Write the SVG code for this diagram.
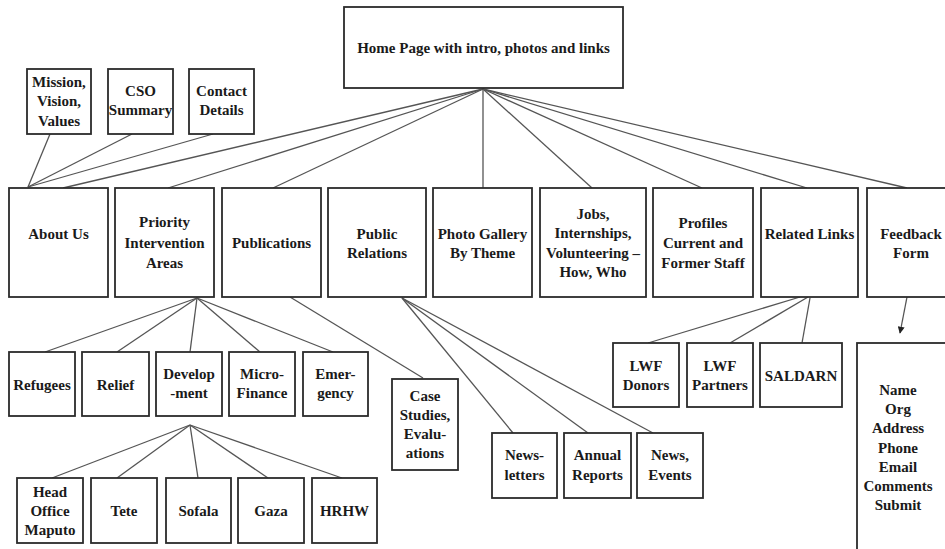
<svg xmlns="http://www.w3.org/2000/svg" width="945" height="549" viewBox="0 0 945 549">
<style>
.box{fill:#fff;stroke:#2b2b2b;stroke-width:1.8}
.t{font-family:"Liberation Serif","Times New Roman",serif;font-weight:bold;font-size:15px;text-anchor:middle;fill:#1a1a1a}
.c{stroke:#555;stroke-width:1.3;fill:none}
</style>
<defs>
<marker id="arr" viewBox="0 0 10 10" refX="9" refY="5" markerWidth="7" markerHeight="7" markerUnits="userSpaceOnUse" orient="auto">
<path d="M0,0 L10,5 L0,10 z" fill="#222"/>
</marker>
</defs>
<rect width="945" height="549" fill="#fff"/>
<g id="connectors">
<line class="c" x1="483" y1="89" x2="63" y2="188"/>
<line class="c" x1="483" y1="89" x2="168" y2="188"/>
<line class="c" x1="483" y1="89" x2="273" y2="188"/>
<line class="c" x1="483" y1="89" x2="483" y2="188"/>
<line class="c" x1="483" y1="89" x2="592" y2="188"/>
<line class="c" x1="483" y1="89" x2="702" y2="188"/>
<line class="c" x1="483" y1="89" x2="807" y2="188"/>
<line class="c" x1="483" y1="89" x2="907" y2="188"/>
<line class="c" x1="50" y1="134" x2="28" y2="187"/>
<line class="c" x1="132" y1="134" x2="28" y2="187"/>
<line class="c" x1="213" y1="134" x2="28" y2="187"/>
<line class="c" x1="197" y1="298" x2="45" y2="352"/>
<line class="c" x1="197" y1="298" x2="117" y2="352"/>
<line class="c" x1="197" y1="298" x2="190" y2="352"/>
<line class="c" x1="197" y1="298" x2="260" y2="352"/>
<line class="c" x1="197" y1="298" x2="333" y2="352"/>
<line class="c" x1="290" y1="297" x2="423" y2="378"/>
<line class="c" x1="402" y1="298" x2="513" y2="433"/>
<line class="c" x1="402" y1="298" x2="588" y2="433"/>
<line class="c" x1="402" y1="298" x2="653" y2="433"/>
<line class="c" x1="190" y1="425" x2="52" y2="478"/>
<line class="c" x1="190" y1="425" x2="117" y2="478"/>
<line class="c" x1="190" y1="425" x2="198" y2="478"/>
<line class="c" x1="190" y1="425" x2="268" y2="478"/>
<line class="c" x1="190" y1="425" x2="342" y2="478"/>
<line class="c" x1="800" y1="297" x2="648" y2="343"/>
<line class="c" x1="808" y1="297" x2="730" y2="343"/>
<line class="c" x1="810" y1="298" x2="802" y2="343"/>
<line class="c" x1="907" y1="297" x2="900" y2="333" marker-end="url(#arr)"/>
</g>
<g id="home"><rect class="box" x="344" y="7" width="279" height="81"/><text class="t" x="483.5" y="53">Home Page with intro, photos and links</text></g>
<g id="mission"><rect class="box" x="27" y="69" width="64" height="65"/><text class="t" x="59" y="87">Mission,</text><text class="t" x="59" y="106">Vision,</text><text class="t" x="59" y="126">Values</text></g>
<g id="cso"><rect class="box" x="108" y="69" width="65" height="65"/><text class="t" x="140.5" y="96">CSO</text><text class="t" x="140.5" y="115">Summary</text></g>
<g id="contact"><rect class="box" x="189" y="69" width="65" height="65"/><text class="t" x="221.5" y="96">Contact</text><text class="t" x="221.5" y="115">Details</text></g>
<g id="about"><rect class="box" x="9" y="188" width="99" height="109"/><text class="t" x="58.5" y="239">About Us</text></g>
<g id="priority"><rect class="box" x="115" y="188" width="99" height="109"/><text class="t" x="164.5" y="227">Priority</text><text class="t" x="164.5" y="248">Intervention</text><text class="t" x="164.5" y="268">Areas</text></g>
<g id="publications"><rect class="box" x="222" y="188" width="99" height="109"/><text class="t" x="271.5" y="248">Publications</text></g>
<g id="public-relations"><rect class="box" x="328" y="188" width="98" height="109"/><text class="t" x="377" y="239">Public</text><text class="t" x="377" y="258">Relations</text></g>
<g id="photo-gallery"><rect class="box" x="433" y="188" width="99" height="109"/><text class="t" x="482.5" y="239">Photo Gallery</text><text class="t" x="482.5" y="258">By Theme</text></g>
<g id="jobs"><rect class="box" x="540" y="188" width="106" height="109"/><text class="t" x="593" y="219">Jobs,</text><text class="t" x="593" y="238">Internships,</text><text class="t" x="593" y="258">Volunteering –</text><text class="t" x="593" y="277">How, Who</text></g>
<g id="profiles"><rect class="box" x="653" y="188" width="100" height="109"/><text class="t" x="703" y="228">Profiles</text><text class="t" x="703" y="248">Current and</text><text class="t" x="703" y="268">Former Staff</text></g>
<g id="related"><rect class="box" x="761" y="188" width="97" height="109"/><text class="t" x="809.5" y="239">Related Links</text></g>
<g id="feedback"><rect class="box" x="867" y="188" width="90" height="109"/><text class="t" x="911" y="239">Feedback</text><text class="t" x="911" y="258">Form</text></g>
<g id="refugees"><rect class="box" x="9" y="352" width="66" height="64"/><text class="t" x="42" y="390">Refugees</text></g>
<g id="relief"><rect class="box" x="82" y="352" width="67" height="64"/><text class="t" x="115.5" y="390">Relief</text></g>
<g id="development"><rect class="box" x="156" y="352" width="66" height="64"/><text class="t" x="189" y="379">Develop</text><text class="t" x="189" y="398">-ment</text></g>
<g id="microfinance"><rect class="box" x="229" y="352" width="66" height="64"/><text class="t" x="262" y="379">Micro-</text><text class="t" x="262" y="398">Finance</text></g>
<g id="emergency"><rect class="box" x="303" y="352" width="65" height="64"/><text class="t" x="335.5" y="379">Emer-</text><text class="t" x="335.5" y="398">gency</text></g>
<g id="case-studies"><rect class="box" x="392" y="379" width="66" height="91"/><text class="t" x="425" y="401">Case</text><text class="t" x="425" y="420">Studies,</text><text class="t" x="425" y="439">Evalu-</text><text class="t" x="425" y="458">ations</text></g>
<g id="head-office"><rect class="box" x="17" y="478" width="66" height="65"/><text class="t" x="50" y="497">Head</text><text class="t" x="50" y="516">Office</text><text class="t" x="50" y="535">Maputo</text></g>
<g id="tete"><rect class="box" x="91" y="478" width="66" height="65"/><text class="t" x="124" y="516">Tete</text></g>
<g id="sofala"><rect class="box" x="166" y="478" width="65" height="65"/><text class="t" x="198.5" y="516">Sofala</text></g>
<g id="gaza"><rect class="box" x="238" y="478" width="66" height="65"/><text class="t" x="271" y="516">Gaza</text></g>
<g id="hrhw"><rect class="box" x="312" y="478" width="65" height="65"/><text class="t" x="344.5" y="516">HRHW</text></g>
<g id="lwf-donors"><rect class="box" x="613" y="343" width="66" height="64"/><text class="t" x="646" y="371">LWF</text><text class="t" x="646" y="390">Donors</text></g>
<g id="lwf-partners"><rect class="box" x="687" y="343" width="66" height="64"/><text class="t" x="720" y="371">LWF</text><text class="t" x="720" y="390">Partners</text></g>
<g id="saldarn"><rect class="box" x="760" y="343" width="82" height="64"/><text class="t" x="801" y="381">SALDARN</text></g>
<g id="newsletters"><rect class="box" x="492" y="433" width="65" height="65"/><text class="t" x="524.5" y="460">News-</text><text class="t" x="524.5" y="480">letters</text></g>
<g id="annual-reports"><rect class="box" x="564" y="433" width="67" height="65"/><text class="t" x="597.5" y="460">Annual</text><text class="t" x="597.5" y="480">Reports</text></g>
<g id="news-events"><rect class="box" x="637" y="433" width="66" height="65"/><text class="t" x="670" y="460">News,</text><text class="t" x="670" y="480">Events</text></g>
<g id="feedback-form"><rect class="box" x="857" y="343" width="100" height="220"/><text class="t" x="898" y="395">Name</text><text class="t" x="898" y="414">Org</text><text class="t" x="898" y="433">Address</text><text class="t" x="898" y="453">Phone</text><text class="t" x="898" y="472">Email</text><text class="t" x="898" y="491">Comments</text><text class="t" x="898" y="510">Submit</text></g>
</svg>
